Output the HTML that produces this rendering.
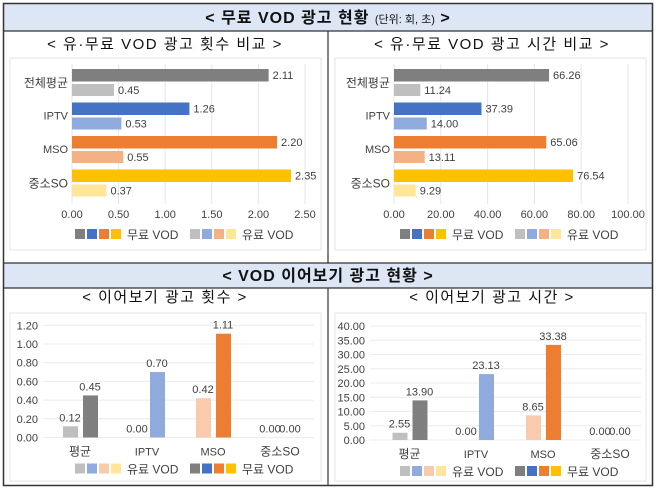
<!DOCTYPE html>
<html><head><meta charset="utf-8">
<style>
body{margin:0;background:#fff;}
svg{display:block;font-family:"Liberation Sans","Noto Sans CJK KR",sans-serif;}
</style></head>
<body>
<svg id="s" width="658" height="489" viewBox="0 0 658 489" xmlns="http://www.w3.org/2000/svg">
<rect x="0" y="0" width="658" height="489" fill="#fff"/>
<rect x="3" y="3" width="650" height="28" fill="#dce6f5"/>
<rect x="3" y="263" width="650" height="25" fill="#dce6f5"/>
<rect x="3.5" y="3.5" width="649" height="482" fill="none" stroke="#333" stroke-width="1.5"/>
<line x1="3" y1="31" x2="653" y2="31" stroke="#333" stroke-width="1.2"/>
<line x1="3" y1="263" x2="653" y2="263" stroke="#333" stroke-width="1.2"/>
<line x1="3" y1="288" x2="653" y2="288" stroke="#333" stroke-width="1.2"/>
<line x1="328" y1="31" x2="328" y2="263" stroke="#333" stroke-width="1.2"/>
<line x1="328" y1="288" x2="328" y2="486" stroke="#333" stroke-width="1.2"/>
<text x="328" y="23" text-anchor="middle" font-size="16" font-weight="bold" fill="#111" letter-spacing="1">&lt; 무료 VOD 광고 현황 <tspan font-size="11" font-weight="normal" letter-spacing="0">(단위: 회, 초)</tspan> &gt;</text>
<text x="328" y="281" text-anchor="middle" font-size="16" font-weight="bold" fill="#111" letter-spacing="1">&lt; VOD 이어보기 광고 현황 &gt;</text>
<text x="165" y="49" text-anchor="middle" font-size="15" fill="#111" letter-spacing="1.5">&lt; 유·무료 VOD 광고 횟수 비교 &gt;</text>
<text x="492" y="49" text-anchor="middle" font-size="15" fill="#111" letter-spacing="1.5">&lt; 유·무료 VOD 광고 시간 비교 &gt;</text>
<text x="165" y="302" text-anchor="middle" font-size="15" fill="#111" letter-spacing="1.5">&lt; 이어보기 광고 횟수 &gt;</text>
<text x="492" y="302" text-anchor="middle" font-size="15" fill="#111" letter-spacing="1.5">&lt; 이어보기 광고 시간 &gt;</text>
<rect x="10" y="58" width="311" height="192" fill="none" stroke="#e4e4e4"/>
<rect x="335" y="58" width="311" height="192" fill="none" stroke="#e4e4e4"/>
<rect x="10" y="313" width="311" height="168" fill="none" stroke="#e4e4e4"/>
<rect x="335" y="313" width="311" height="168" fill="none" stroke="#e4e4e4"/>
<g id="g"></g>
</svg>
<script>
const hCats=["전체평균","IPTV","MSO","중소SO"];
const countFree=[2.11,1.26,2.20,2.35];
const countPaid=[0.45,0.53,0.55,0.37];
const countTicks=[0,0.5,1.0,1.5,2.0,2.5];
const timeFree=[66.26,37.39,65.06,76.54];
const timePaid=[11.24,14.00,13.11,9.29];
const timeTicks=[0,20,40,60,80,100];
const vCats=["평균","IPTV","MSO","중소SO"];
const resumeCountPaid=[0.12,0,0.42,0];
const resumeCountFree=[0.45,0.70,1.11,0];
const resumeCountTicks=[0,0.2,0.4,0.6,0.8,1.0,1.2];
const resumeTimePaid=[2.55,0,8.65,0];
const resumeTimeFree=[13.90,23.13,33.38,0];
const resumeTimeTicks=[0,5,10,15,20,25,30,35,40];

const dark=["#7f7f7f","#4472c4","#ed7d31","#ffc000"];
const light=["#bfbfbf","#8faadc","#f4b183","#ffe699"];
const light2=["#bfbfbf","#8faadc","#f8cbad","#ffe699"];
const resumeFreeCol=["#7f7f7f","#8faadc","#ed7d31","#ffc000"];
const NS="http://www.w3.org/2000/svg";
const G=document.getElementById('g');
function el(t,a,txt){const e=document.createElementNS(NS,t);for(const k in a)e.setAttribute(k,a[k]);if(txt!==undefined)e.textContent=txt;G.appendChild(e);return e;}

function hChart(px,x0,x1,max,ticks,free,paid){
  const sx=v=>x0+(x1-x0)*v/max;
  ticks.forEach(t=>{
    const l=el('line',{x1:sx(t),x2:sx(t),y1:64,y2:204,stroke:'#e6e6e6'});
    
    
    const tx=el('text',{x:sx(t),y:218,'text-anchor':'middle','font-size':11,fill:'#404040'},t.toFixed(2));
    
    
  });
  hCats.forEach((c,i)=>{
    const y=69+i*33.5;
    const b1=el('rect',{x:x0,y:y,width:sx(free[i])-x0,height:12.5,fill:dark[i]});
    
    
    const t1=el('text',{x:sx(free[i])+4,y:y+10,'font-size':11,fill:'#404040'},free[i].toFixed(2));
    
    
    const b2=el('rect',{x:x0,y:y+15,width:sx(paid[i])-x0,height:12,fill:light[i]});
    
    
    const t2=el('text',{x:sx(paid[i])+4,y:y+25,'font-size':11,fill:'#404040'},paid[i].toFixed(2));
    
    
    const cl=el('text',{x:x0-4,y:y+(i==0||i==3?18:17),'text-anchor':'end','font-size':i==0||i==3?12:11,fill:'#404040'},c);
    
    
  });
  legend(px+75,229,dark,'무료 VOD',px+190,light,'유료 VOD');
}
function legend(x,y,c1,l1,x2,c2,l2){
  c1.forEach((c,i)=>{const r=el('rect',{x:x+i*12,y:y,width:10,height:10,fill:c});
    
    });
  const a=el('text',{x:x+52,y:y+10,'font-size':12,fill:'#404040'},l1);
  
  
  c2.forEach((c,i)=>{const r=el('rect',{x:x2+i*12,y:y,width:10,height:10,fill:c});
    
    });
  const b=el('text',{x:x2+52,y:y+10,'font-size':12,fill:'#404040'},l2);
  
  
}
function vChart(px,y0,y1,max,ticks,centers,paid,free,gx0,gx1){
  const sy=v=>y0-(y0-y1)*v/max;
  ticks.forEach(t=>{
    const l=el('line',{x1:gx0,x2:gx1,y1:sy(t),y2:sy(t),stroke:'#ececec'});
    
    
    const tx=el('text',{x:gx0-5,y:sy(t)+4,'text-anchor':'end','font-size':11,fill:'#404040'},t.toFixed(2));
    
    
  });
  vCats.forEach((c,i)=>{
    const cx=centers[i];
    const b1=el('rect',{x:cx-17,y:sy(paid[i]),width:15,height:y0-sy(paid[i]),fill:light2[i]});
    
    
    const t1=el('text',{x:cx-10,y:sy(paid[i])-5,'text-anchor':'middle','font-size':11,fill:'#404040'},paid[i].toFixed(2));
    
    
    const b2=el('rect',{x:cx+3,y:sy(free[i]),width:15,height:y0-sy(free[i]),fill:resumeFreeCol[i]});
    
    
    const t2=el('text',{x:cx+10,y:sy(free[i])-5,'text-anchor':'middle','font-size':11,fill:'#404040'},free[i].toFixed(2));
    
    
    const cl=el('text',{x:cx,y:y0+18,'text-anchor':'middle','font-size':i==0||i==3?12:11,fill:'#404040'},c);
    
    
  });
  legend(px+75,y0+26,light2,'유료 VOD',px+190,dark,'무료 VOD');
}
hChart(0,72,305,2.5,countTicks,countFree,countPaid);
hChart(325,394,628,100,timeTicks,timeFree,timePaid);
vChart(0,437.5,325.3,1.2,resumeCountTicks,[80,147,213,280],resumeCountPaid,resumeCountFree,43,314);
vChart(325,440,326,40,resumeTimeTicks,[409.5,476,543,610],resumeTimePaid,resumeTimeFree,370,641);
</script>
</body></html>
